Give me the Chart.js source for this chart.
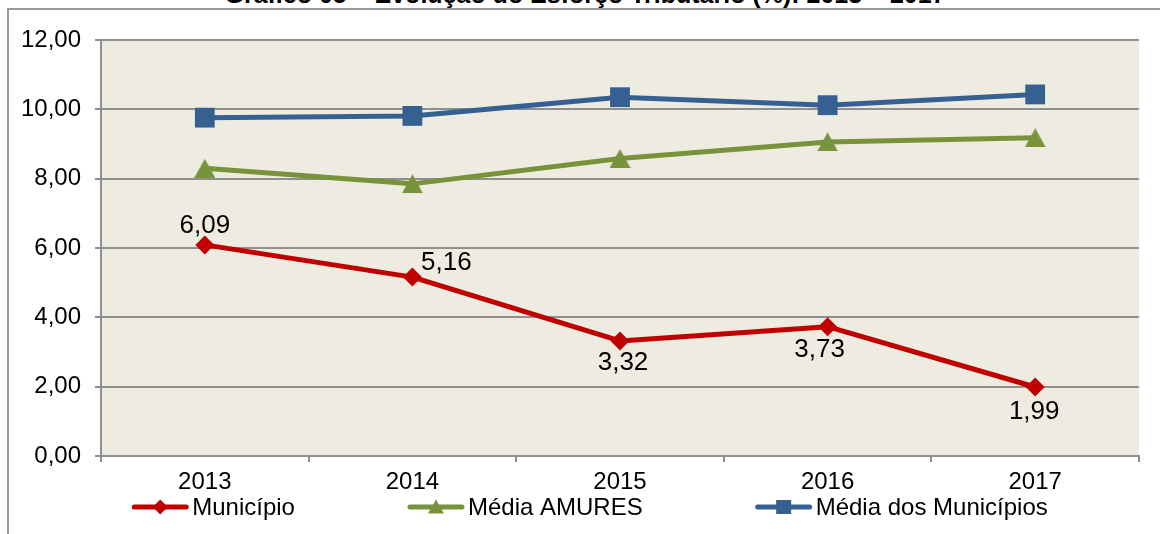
<!DOCTYPE html>
<html><head><meta charset="utf-8">
<script src="https://cdn.jsdelivr.net/npm/chart.js@4"></script>
<style>
html,body{margin:0;padding:0;background:#fff;width:1160px;height:534px;overflow:hidden;}
#wrap{position:relative;width:1160px;height:534px;}
#title{position:absolute;left:0;width:1170px;top:-18px;text-align:center;font:bold 25px "Liberation Sans",Arial,sans-serif;line-height:25px;color:#000;white-space:nowrap;}
#frame{position:absolute;left:7px;top:8px;right:-4px;bottom:-4px;border-top:2px solid #9a9a9a;border-left:2px solid #9a9a9a;}
canvas{position:absolute;left:0;top:0;}
</style></head><body>
<div id="wrap"><div id="frame"></div><div id="title">Gráfico 05 – Evolução do Esforço Tributário (%): 2013 – 2017</div><canvas id="c" width="1160" height="534"></canvas></div>
<script>
const categories = ['2013', '2014', '2015', '2016', '2017'];
const municipio = [6.09, 5.16, 3.32, 3.73, 1.99];
const mediaAmures = [8.30, 7.85, 8.58, 9.06, 9.18];
const mediaMunicipios = [9.76, 9.81, 10.35, 10.12, 10.43];
const yTicks = [0, 2, 4, 6, 8, 10, 12];
const seriesNames = ['Município', 'Média AMURES', 'Média dos Municípios'];

const RED = '#C00000', GREEN = '#77933C', BLUE = '#366092';
const FONT = '"Liberation Sans", Arial, sans-serif';
const fmt = v => Number(v).toFixed(2).replace('.', ',');

function triangleImg(w, h, color) {
  const c = document.createElement('canvas');
  c.width = w; c.height = h;
  const x = c.getContext('2d');
  x.fillStyle = color;
  x.beginPath(); x.moveTo(w / 2, 0); x.lineTo(w, h); x.lineTo(0, h); x.closePath(); x.fill();
  return c;
}

const bgPlugin = {
  id: 'plotBg',
  beforeDraw(chart) {
    const a = chart.chartArea, ctx = chart.ctx;
    ctx.save(); ctx.fillStyle = '#EEECE1';
    ctx.fillRect(a.left, a.top, a.right - a.left, a.bottom - a.top);
    ctx.restore();
  }
};

const labelPlacement = [[0, -19], [34, -14], [3, 22], [-8, 23], [-1, 25]];
const dataLabelPlugin = {
  id: 'dataLabels',
  afterDatasetsDraw(chart) {
    const ctx = chart.ctx, meta = chart.getDatasetMeta(0), ds = chart.data.datasets[0];
    ctx.save();
    ctx.font = '26px ' + FONT; ctx.fillStyle = '#000';
    ctx.textAlign = 'center'; ctx.textBaseline = 'middle';
    meta.data.forEach((pt, i) => {
      const off = labelPlacement[i];
      ctx.fillText(fmt(ds.data[i]), pt.x + off[0], pt.y + off[1]);
    });
    ctx.restore();
  }
};

function drawLegendMarker(ctx, kind, x, y, color) {
  ctx.fillStyle = color;
  ctx.beginPath();
  if (kind === 'diamond') {
    const r = 7.5;
    ctx.moveTo(x - r, y); ctx.lineTo(x, y - r); ctx.lineTo(x + r, y); ctx.lineTo(x, y + r);
  } else if (kind === 'triangle') {
    ctx.moveTo(x, y - 7.5); ctx.lineTo(x + 8, y + 6.5); ctx.lineTo(x - 8, y + 6.5);
  } else {
    ctx.rect(x - 7.5, y - 7, 15, 14);
  }
  ctx.closePath(); ctx.fill();
}

const legendPlugin = {
  id: 'legendRow',
  afterDraw(chart) {
    const ctx = chart.ctx;
    ctx.save();
    ctx.font = '24px ' + FONT;
    const lineW = 56, gapText = 4, gapItem = 113, cx = 590, y = 507;
    const kinds = ['diamond', 'triangle', 'square'];
    const items = chart.data.datasets.map((ds, i) => ({ ds, kind: kinds[i], tw: ctx.measureText(ds.label).width }));
    const total = items.reduce((s, it) => s + lineW + gapText + it.tw, 0) + gapItem * (items.length - 1);
    let x = cx - total / 2;
    items.forEach(it => {
      ctx.strokeStyle = it.ds.borderColor; ctx.lineWidth = 5; ctx.lineCap = 'round';
      ctx.beginPath(); ctx.moveTo(x + 2, y); ctx.lineTo(x + lineW - 2, y); ctx.stroke();
      drawLegendMarker(ctx, it.kind, x + lineW / 2, y, it.ds.borderColor);
      ctx.fillStyle = '#000'; ctx.textAlign = 'left'; ctx.textBaseline = 'middle';
      ctx.fillText(it.ds.label, x + lineW + gapText, y + 1);
      x += lineW + gapText + it.tw + gapItem;
    });
    ctx.restore();
  }
};

Chart.defaults.font.family = FONT;
Chart.defaults.font.size = 24;
Chart.defaults.color = '#000';

new Chart(document.getElementById('c'), {
  type: 'line',
  data: {
    labels: categories,
    datasets: [
      { label: seriesNames[0], data: municipio, borderColor: RED, backgroundColor: RED,
        borderWidth: 5, pointStyle: 'rectRot', pointRadius: 9.5, pointBorderWidth: 0,
        pointBackgroundColor: RED, tension: 0, borderJoinStyle: 'round', borderCapStyle: 'round' },
      { label: seriesNames[1], data: mediaAmures, borderColor: GREEN, backgroundColor: GREEN,
        borderWidth: 5, pointStyle: triangleImg(21, 19, GREEN), pointRadius: 10,
        tension: 0, borderJoinStyle: 'round', borderCapStyle: 'round' },
      { label: seriesNames[2], data: mediaMunicipios, borderColor: BLUE, backgroundColor: BLUE,
        borderWidth: 5, pointStyle: 'rect', pointRadius: 14, pointBorderWidth: 0,
        pointBackgroundColor: BLUE, tension: 0, borderJoinStyle: 'round', borderCapStyle: 'round' }
    ]
  },
  options: {
    responsive: false,
    animation: false,
    layout: { padding: { top: 40, right: 21, left: 0, bottom: 0 } },
    plugins: { legend: { display: false }, tooltip: { enabled: false }, title: { display: false } },
    scales: {
      x: {
        offset: true,
        grid: { offset: true, drawOnChartArea: false, drawTicks: true, tickLength: 6, color: '#8f8f8f', lineWidth: 2 },
        border: { display: true, color: '#8f8f8f', width: 2 },
        ticks: { color: '#000', font: { size: 24 }, padding: 6, maxRotation: 0 },
        afterFit(s) { s.height = 78; }
      },
      y: {
        min: 0, max: 12,
        afterBuildTicks(s) { s.ticks = yTicks.map(v => ({ value: v })); },
        ticks: { callback: v => fmt(v), padding: 14, color: '#000', font: { size: 24 } },
        grid: { color: '#8f8f8f', lineWidth: 2, tickLength: 6, drawTicks: true },
        border: { color: '#8f8f8f', width: 2 },
        afterFit(s) { s.width = 101; }
      }
    }
  },
  plugins: [bgPlugin, dataLabelPlugin, legendPlugin]
});
</script>
</body></html>
